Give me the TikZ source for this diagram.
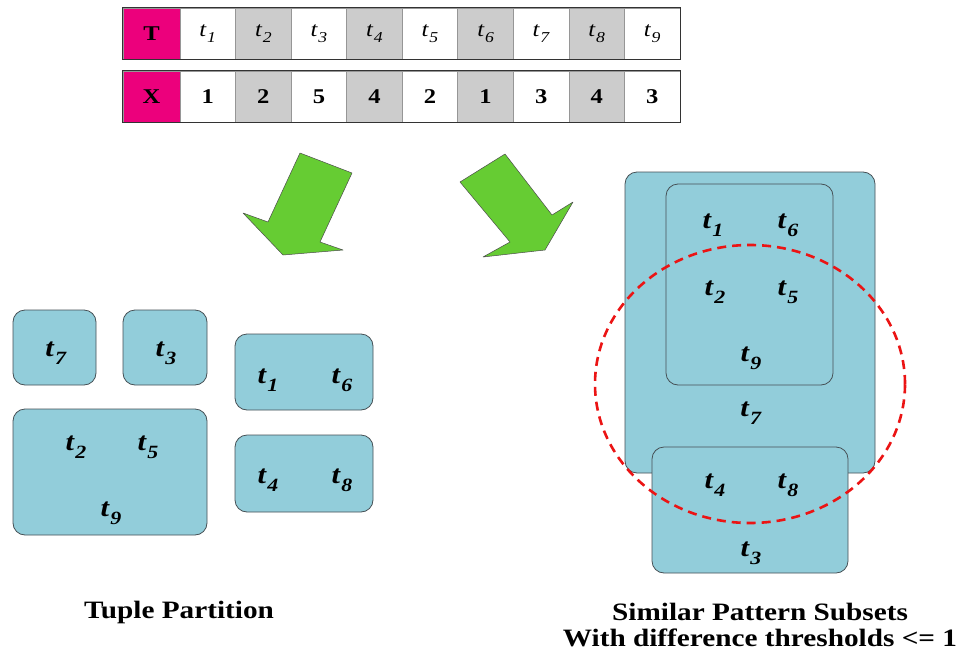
\documentclass[tikz,border=0pt]{standalone}
\usepackage{fontspec}
\setmainfont{Liberation Serif}[FakeStretch=1.17]
\usepackage{graphicx}
\usetikzlibrary{shapes.geometric}
\definecolor{pinkc}{RGB}{236,0,124}
\definecolor{grayc}{RGB}{204,204,204}
\definecolor{cellline}{RGB}{150,150,150}
\definecolor{boxc}{RGB}{146,205,218}
\definecolor{boxline}{RGB}{70,80,85}
\definecolor{greenc}{RGB}{102,204,51}
\definecolor{redc}{RGB}{235,20,20}
\newcommand{\tv}[1]{\textit{t}\kern0.02em\raisebox{-0.3em}{\scalebox{0.72}{\textit{#1}}}}
\begin{document}
\begin{tikzpicture}[x=1pt,y=-1pt,
  cell/.style={draw=cellline, line width=0.6pt, minimum width=55.6pt, minimum height=51pt, inner sep=0pt, font=\fontsize{21}{24}\selectfont},
  head/.style={cell, fill=pinkc, minimum width=57pt, font=\fontsize{21}{24}\selectfont\bfseries},
  tbox/.style={draw=boxline, fill=boxc, line width=0.8pt, rounded corners=12pt, inner sep=0pt},
  lab/.style={font=\fontsize{26}{30}\selectfont\bfseries, inner sep=0pt},
  bigarrow/.style={draw=black!70, line width=0.5pt, fill=greenc, line join=round},
  captext/.style={font=\fontsize{25}{28}\selectfont\bfseries, anchor=base, inner sep=0pt}
]
\useasboundingbox (0,0) rectangle (963,653);
\fill[white] (0,0) rectangle (963,653);

% table
\node[head] (T0) at (151.5,33.5) {T};
\node[head] (X0) at (151.5,96.5) {X};
\foreach \i/\v in {1/1,2/2,3/5,4/4,5/2,6/1,7/3,8/4,9/3}{
  \pgfmathsetmacro{\cx}{180+55.56*(\i-0.5)}
  \ifodd\i
    \node[cell, fill=white] (T\i) at (\cx,33.5) {\tv{\i}};
    \node[cell, fill=white, font=\fontsize{21}{24}\selectfont\bfseries] (X\i) at (\cx,96.5) {\v};
  \else
    \node[cell, fill=grayc] (T\i) at (\cx,33.5) {\tv{\i}};
    \node[cell, fill=grayc, font=\fontsize{21}{24}\selectfont\bfseries] (X\i) at (\cx,96.5) {\v};
  \fi
}
\draw[line width=1.3pt, black!80] (T0.north west) rectangle (T9.south east);
\draw[line width=1.3pt, black!80] (X0.north west) rectangle (X9.south east);

% green arrows
\draw[bigarrow] (300,153) -- (352,173) -- (320,242) -- (343,250) -- (283,255) -- (243,213) -- (268,222) -- cycle;
\draw[bigarrow] (460,182) -- (505,154) -- (552,215) -- (573,202) -- (545,250) -- (483,257) -- (510,242) -- cycle;

% left partition boxes
\node[tbox, minimum width=83pt, minimum height=75pt] (b7) at (54.5,347.5) {};
\node[tbox, minimum width=84pt, minimum height=75pt] (b3) at (165,347.5) {};
\node[tbox, minimum width=138pt, minimum height=76pt] (b16) at (304,372) {};
\node[tbox, minimum width=138pt, minimum height=77pt] (b48) at (304,473.5) {};
\node[tbox, minimum width=194pt, minimum height=126pt] (b259) at (110,472) {};
\node[lab] (l7) at (56,353) {\tv{7}};
\node[lab] (l3) at (166,353) {\tv{3}};
\node[lab] (l1) at (268,380) {\tv{1}};
\node[lab] (l6) at (342,380) {\tv{6}};
\node[lab] (l4) at (268,480) {\tv{4}};
\node[lab] (l8) at (342,480) {\tv{8}};
\node[lab] (l2) at (76,447) {\tv{2}};
\node[lab] (l5) at (148,447) {\tv{5}};
\node[lab] (l9) at (111,513) {\tv{9}};

% right similar pattern subsets
\node[tbox, minimum width=250pt, minimum height=301pt] (outer) at (750,322.5) {};
\node[tbox, minimum width=196pt, minimum height=126pt] (bottom) at (750,510) {};
\node[tbox, minimum width=167pt, minimum height=201pt] (inner) at (749.5,284.5) {};
\node[lab] (r1) at (713,225) {\tv{1}};
\node[lab] (r6) at (788,225) {\tv{6}};
\node[lab] (r2) at (715,292) {\tv{2}};
\node[lab] (r5) at (788,292) {\tv{5}};
\node[lab] (r9) at (751,358) {\tv{9}};
\node[lab] (r7) at (751,413) {\tv{7}};
\node[lab] (r4) at (715,485) {\tv{4}};
\node[lab] (r8) at (788,485) {\tv{8}};
\node[lab] (r3) at (751,553) {\tv{3}};
\node[draw=redc, line width=2.6pt, dash pattern=on 9pt off 6pt, ellipse, minimum width=310pt, minimum height=278pt, inner sep=0pt] (circ) at (750,384) {};

% captions
\node[captext] (cap1) at (179,618) {Tuple Partition};
\node[captext] (cap2) at (760,620) {Similar Pattern Subsets};
\node[captext] (cap3) at (760,646) {With difference thresholds <= 1};
\end{tikzpicture}
\end{document}
